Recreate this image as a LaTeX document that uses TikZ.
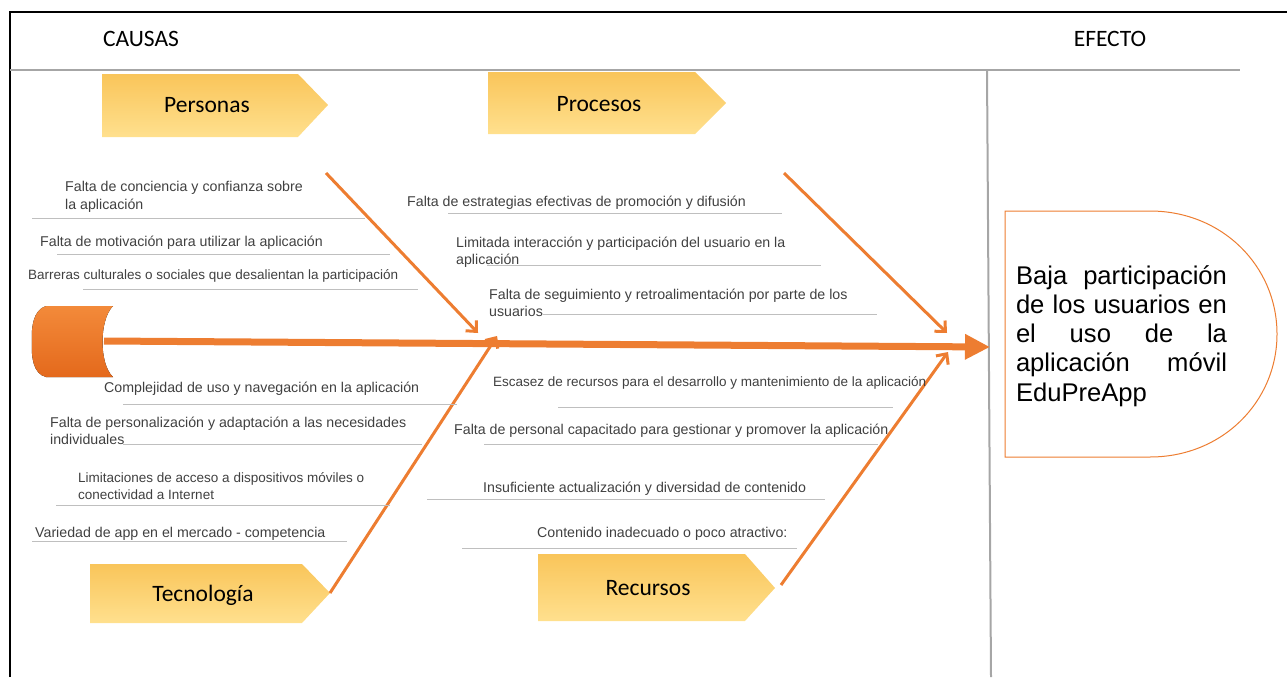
\documentclass[tikz,border=0pt]{standalone}
\usepackage{fontspec}
\setmainfont{Liberation Sans}
\newfontfamily\calib{Carlito}
\usetikzlibrary{arrows.meta}
\definecolor{org}{HTML}{ED7D31}
\definecolor{txtgray}{HTML}{404040}
\definecolor{linegray}{HTML}{BFBFBF}
\definecolor{framegray}{HTML}{A6A6A6}
\definecolor{boxtop}{HTML}{F9C55A}
\definecolor{boxbot}{HTML}{FFE08E}
\definecolor{headtop}{HTML}{F38A3A}
\definecolor{headbot}{HTML}{E4691C}
\tikzset{
  txt/.style={font=\fontsize{14.2}{17.5}\selectfont, text=txtgray, inner sep=0pt, anchor=west, align=left},
  txtsm/.style={txt, font=\fontsize{13.5}{16.5}\selectfont},
  hdr/.style={font=\calib\fontsize{23.5}{28}\selectfont, text=black, inner sep=0pt},
  cattxt/.style={font=\calib\fontsize{23.5}{28}\selectfont, text=black, inner sep=0pt},
  catshape/.style={top color=boxtop, bottom color=boxbot, draw=none},
  uline/.style={draw=linegray, line width=1pt},
  bone/.style={draw=org, line width=3pt, -{Straight Barb[length=8pt,width=15pt]}},
  spine/.style={draw=org, line width=7pt, -{Triangle[length=25pt,width=24pt]}},
}
\begin{document}
\begin{tikzpicture}[x=1pt,y=-1pt]
\useasboundingbox (0,0) rectangle (1287,677);
% frame
\draw[black, line width=1.2pt] (10,677) -- (10,12) -- (1287,12);
\draw[framegray, line width=2pt] (10,70) -- (1240,70);
\draw[framegray, line width=2pt] (987,70) -- (991,677);
% headers
\node[hdr] (causas) at (141,39) {CAUSAS};
\node[hdr] (efecto) at (1110,39) {EFECTO};
% category boxes
\path[catshape] (102,74) -- (298,74) -- (328,105) -- (298,137) -- (102,137) -- cycle;
\node[cattxt] (personas) at (207,105) {Personas};
\path[catshape] (488,72) -- (695,72) -- (726,103) -- (695,134) -- (488,134) -- cycle;
\node[cattxt] (procesos) at (599,104) {Procesos};
\path[catshape] (90,564) -- (302,564) -- (330,593) -- (302,623) -- (90,623) -- cycle;
\node[cattxt] (tecnologia) at (203,595) {Tecnología};
\path[catshape] (538,554) -- (745,554) -- (775,588) -- (745,621) -- (538,621) -- cycle;
\node[cattxt] (recursos) at (648,588) {Recursos};
% fish head
\fill[top color=headtop, bottom color=headbot] (113,306) .. controls (99,320) and (99,364) .. (113,377)
  -- (46,377) .. controls (33,374) and (31,356) .. (32,342) .. controls (31,328) and (33,310) .. (46,306) -- cycle;
\coordinate (headR) at (104,341);
\coordinate (spineEnd) at (990,347);
\draw[spine] (headR) -- (spineEnd);
% bones
\coordinate (pS) at (326,173); \coordinate (pE) at (478,333);
\coordinate (rS) at (784,173); \coordinate (rE) at (947,333);
\coordinate (tS) at (330,593); \coordinate (tE) at (497,336);
\coordinate (uS) at (781,585); \coordinate (uE) at (948,352);
\draw[bone] (pS) -- (pE);
\draw[bone] (rS) -- (rE);
\draw[bone] (tS) -- (tE);
\draw[bone] (uS) -- (uE);
% Personas causes
\node[txt] (c1) at (65,197) {Falta de conciencia y confianza sobre\\la aplicación};
\draw[uline] (32,218) -- (365,218);
\node[txt] (c2) at (40,243) {Falta de motivación para utilizar la aplicación};
\draw[uline] (57,254) -- (390,254);
\node[txtsm] (c3) at (28,276) {Barreras culturales o sociales que desalientan la participación};
\draw[uline] (83,289) -- (418,289);
% Procesos causes
\node[txt] (c4) at (407,203) {Falta de estrategias efectivas de promoción y difusión};
\draw[uline] (448,213) -- (782,213);
\node[txt] (c5) at (456,252) {Limitada interacción y participación del usuario en la\\aplicación};
\draw[uline] (487,265) -- (821,265);
\node[txt] (c6) at (489,303) {Falta de seguimiento y retroalimentación por parte de los\\usuarios};
\draw[uline] (543,314) -- (877,314);
% Tecnologia causes
\node[txt] (c7) at (104,389) {Complejidad de uso y navegación en la aplicación};
\draw[uline] (123,404) -- (457,404);
\node[txt] (c8) at (50,431) {Falta de personalización y adaptación a las necesidades\\individuales};
\draw[uline] (123,444) -- (422,444);
\node[txtsm] (c9) at (78,486) {Limitaciones de acceso a dispositivos móviles o\\conectividad a Internet};
\draw[uline] (56,505) -- (390,505);
\node[txt] (c10) at (35,534) {Variedad de app en el mercado - competencia};
\draw[uline] (32,541) -- (347,541);
% Recursos causes
\node[txtsm] (c11) at (493,383) {Escasez de recursos para el desarrollo y mantenimiento de la aplicación};
\draw[uline] (558,407) -- (893,407);
\node[txt] (c12) at (454,431) {Falta de personal capacitado para gestionar y promover la aplicación};
\draw[uline] (484,444) -- (878,444);
\node[txt] (c13) at (483,489) {Insuficiente actualización y diversidad de contenido};
\draw[uline] (427,499) -- (825,499);
\node[txt] (c14) at (537,534) {Contenido inadecuado o poco atractivo:};
\draw[uline] (462,548) -- (797,548);
% effect
\draw[org, line width=1pt, fill=white] (1005,211) -- (1150,211) .. controls (1222,211) and (1277,266) .. (1277,334)
  .. controls (1277,402) and (1222,457) .. (1150,457) -- (1005,457) -- cycle;
\node[font=\fontsize{25.6}{29.2}\selectfont, text=black, inner sep=0pt, text width=211pt, align=left] (eff) at (1121.5,336)
 {\hbox to 211pt{Baja\hfill participación}
  \hbox to 211pt{de\hfill los\hfill usuarios\hfill en}
  \hbox to 211pt{el\hfill uso\hfill de\hfill la}
  \hbox to 211pt{aplicación\hfill móvil}
  \hbox to 211pt{EduPreApp\hfill}};
\end{tikzpicture}
\end{document}
